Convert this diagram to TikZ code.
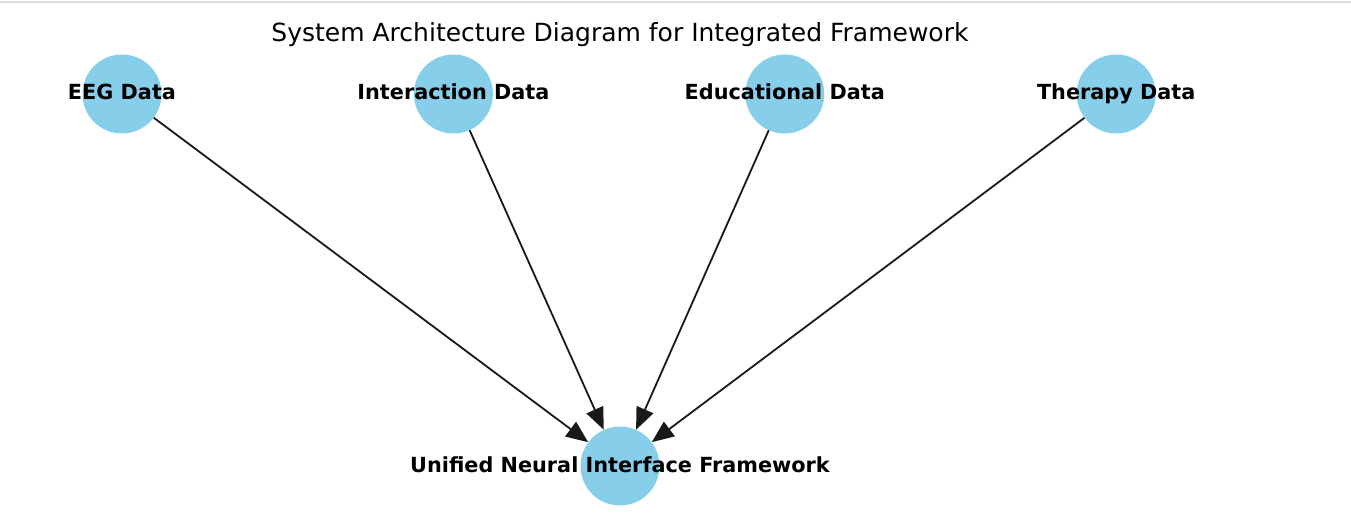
\documentclass[tikz,border=0pt]{standalone}
\usepackage{fontspec}
\setmainfont{DejaVu Sans}
\usepackage{tikz}
\usetikzlibrary{arrows.meta,positioning}
\definecolor{nodeblue}{RGB}{135,206,235}
\definecolor{rulegray}{RGB}{220,220,220}

\begin{document}
\begin{tikzpicture}[
  x=1pt,y=-1pt,
  src/.style={circle,fill=nodeblue,minimum size=79pt,inner sep=0pt},
  lbl/.style={font=\fontsize{20.8}{24}\selectfont\bfseries,text=black,text height=1.3em,text depth=0.1em},
  arrow/.style={-{Triangle[length=22pt,width=18pt]},line width=1.8pt,black!90}
]
  \useasboundingbox[fill=white] (0,0) rectangle (1351,526);
  \draw[rulegray,line width=1.5pt] (0,2) -- (1351,2);
  \node[font=\fontsize{25}{30}\selectfont] (title) at (620,35) {System Architecture Diagram for Integrated Framework};
  \node[src,label={[lbl]center:EEG Data}] (eeg) at (122,94) {};
  \node[src,right=252pt of eeg,label={[lbl]center:Interaction Data}] (inter) {};
  \node[src,right=252pt of inter,label={[lbl]center:Educational Data}] (edu) {};
  \node[src,right=252pt of edu,label={[lbl]center:Therapy Data}] (ther) {};
  \node[src,label={[lbl]center:Unified Neural Interface Framework}] (unf) at (620,466) {};
  \draw[arrow] (eeg) -- (unf);
  \draw[arrow] (inter) -- (unf);
  \draw[arrow] (edu) -- (unf);
  \draw[arrow] (ther) -- (unf);
\end{tikzpicture}
\end{document}
